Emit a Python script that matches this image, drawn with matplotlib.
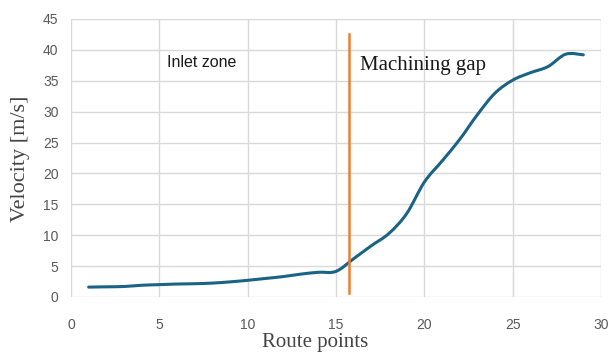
import numpy as np
import matplotlib
matplotlib.use("Agg")
import matplotlib.pyplot as plt
from matplotlib.path import Path
from matplotlib.patches import PathPatch

# route point index and velocity
route_pts = list(range(1, 30))
velocity = [1.6, 1.65, 1.7, 1.9, 2.0, 2.1, 2.15, 2.25, 2.45, 2.7,
            3.0, 3.3, 3.7, 4.0, 4.15, 6.2, 8.3, 10.3, 13.5, 18.6,
            22.0, 25.5, 29.5, 33.0, 35.1, 36.3, 37.3, 39.3, 39.2]
boundary_x = 15.75
boundary_y = [0.7, 42.5]
x_ticks = [0, 5, 10, 15, 20, 25, 30]
y_ticks = [0, 5, 10, 15, 20, 25, 30, 35, 40, 45]

LINE = "#1b6384"
ORANGE = "#ed7d31"
GRID = "#d9d9d9"
TICK = "#595959"


def smooth_path(x, y, t=0.17):
    """Excel-style smoothed line: cubic bezier through every point."""
    x = np.asarray(x, float); y = np.asarray(y, float)
    verts = [(x[0], y[0])]; codes = [Path.MOVETO]
    n = len(x)
    for i in range(n - 1):
        p0 = i - 1 if i > 0 else i
        p3 = i + 2 if i + 2 < n else i + 1
        c1 = (x[i] + t * (x[i + 1] - x[p0]), y[i] + t * (y[i + 1] - y[p0]))
        c2 = (x[i + 1] - t * (x[p3] - x[i]), y[i + 1] - t * (y[p3] - y[i]))
        verts += [c1, c2, (x[i + 1], y[i + 1])]
        codes += [Path.CURVE4] * 3
    return Path(verts, codes)


fig = plt.figure(figsize=(6.14, 3.53), dpi=100)
ax = fig.add_axes([71 / 614, 1 - 297 / 353, 530 / 614, 278 / 353])
ax.set_xlim(0, 30); ax.set_ylim(0, 45)
ax.set_xticks(x_ticks); ax.set_yticks(y_ticks)
ax.grid(True, color=GRID, lw=1.0)
ax.set_axisbelow(True)
for s in ax.spines.values():
    s.set_visible(False)
ax.tick_params(length=0, labelsize=10, labelcolor=TICK)
ax.tick_params(axis="y", pad=9)
ax.tick_params(axis="x", pad=15)
for lab in ax.get_xticklabels() + ax.get_yticklabels():
    lab.set_fontfamily("Liberation Sans")

ax.add_patch(PathPatch(smooth_path(route_pts, velocity), fc="none",
                       ec=LINE, lw=2.2, capstyle="round"))
ax.plot([boundary_x, boundary_x], boundary_y, color=ORANGE, lw=1.8)

ax.text(5.45, 37.9, "Inlet zone", fontsize=11.5, family="Liberation Sans",
        color="#1a1a1a", va="center", ha="left")
ax.text(16.35, 37.5, "Machining gap", fontsize=15, family="Liberation Serif",
        color="#1a1a1a", va="center", ha="left")

fig.text(21 / 614, 1 - 159 / 353, "Velocity [m/s]", rotation=90, fontsize=16,
         family="Liberation Serif", color="#444444", ha="center", va="center")
fig.text(315 / 614, 1 / 353, "Route points", fontsize=15,
         family="Liberation Serif", color="#444444", ha="center", va="bottom")

fig.savefig("out.png", dpi=100)
